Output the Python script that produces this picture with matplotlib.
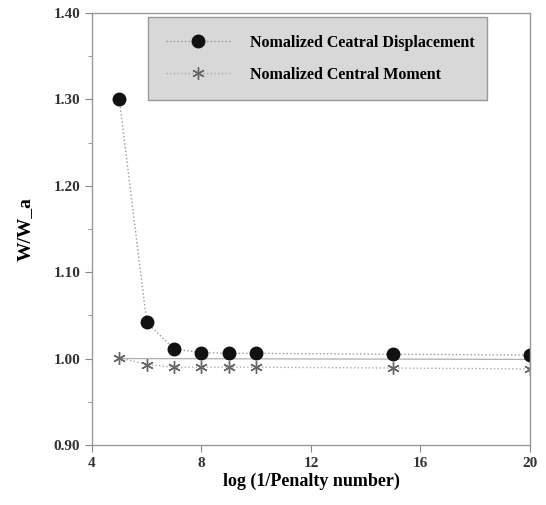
import matplotlib.pyplot as plt
import matplotlib.ticker as mticker

plt.rcParams['font.family'] = ['Liberation Serif', 'DejaVu Serif']

# data
penalty_log = [5, 6, 7, 8, 9, 10, 15, 20]
central_disp = [1.300, 1.042, 1.011, 1.007, 1.006, 1.006, 1.005, 1.004]
central_moment = [1.001, 0.993, 0.990, 0.990, 0.990, 0.990, 0.989, 0.988]
ref_x = [5, 20]
ref_y = [1.000, 0.999]

fig = plt.figure(figsize=(5.46, 5.05), dpi=100)
ax = fig.add_axes([0.1685, 0.119, 0.802, 0.855])

ax.plot(ref_x, ref_y, '-', color='#b0b0b0', lw=0.9)
ax.plot(penalty_log, central_disp, ':', color='#999999', lw=1.0,
        marker='o', ms=9, mfc='#111111', mec='#111111',
        label='Nomalized Ceatral Displacement')
ax.plot(penalty_log, central_moment, ':', color='#aaaaaa', lw=1.0,
        marker=(6, 2, 0), ms=9, mew=1.0, mec='#666666',
        label='Nomalized Central Moment')

ax.set_xlim(4, 20)
ax.set_ylim(0.90, 1.40)
ax.xaxis.set_major_locator(mticker.MultipleLocator(4))
ax.yaxis.set_major_locator(mticker.MultipleLocator(0.1))
ax.yaxis.set_minor_locator(mticker.MultipleLocator(0.05))
ax.yaxis.set_major_formatter(mticker.FormatStrFormatter('%.2f'))
ax.tick_params(which='both', direction='out', color='#888888', labelsize=11)
ax.tick_params(which='major', length=5)
ax.tick_params(which='minor', length=3)
for lbl in ax.get_xticklabels() + ax.get_yticklabels():
    lbl.set_fontweight('bold')
    lbl.set_color('#333333')
for s in ax.spines.values():
    s.set_color('#999999')
    s.set_linewidth(1.0)

ax.set_xlabel('log (1/Penalty number)', fontsize=13, fontweight='bold', labelpad=2)
ax.set_ylabel('W/W_a', fontsize=14, fontweight='bold', labelpad=14)

leg = ax.legend(loc='upper left', bbox_to_anchor=(0.128, 0.806, 0.774, 0.185),
                mode='expand', prop={'weight': 'bold', 'size': 11.5},
                frameon=True, fancybox=False, borderpad=1.1, labelspacing=1.0,
                handlelength=4.0, handletextpad=1.3, borderaxespad=0)
leg.get_frame().set_facecolor('#d8d8d8')
leg.get_frame().set_edgecolor('#999999')
leg.get_frame().set_alpha(1.0)

fig.savefig('out.png', dpi=100)
